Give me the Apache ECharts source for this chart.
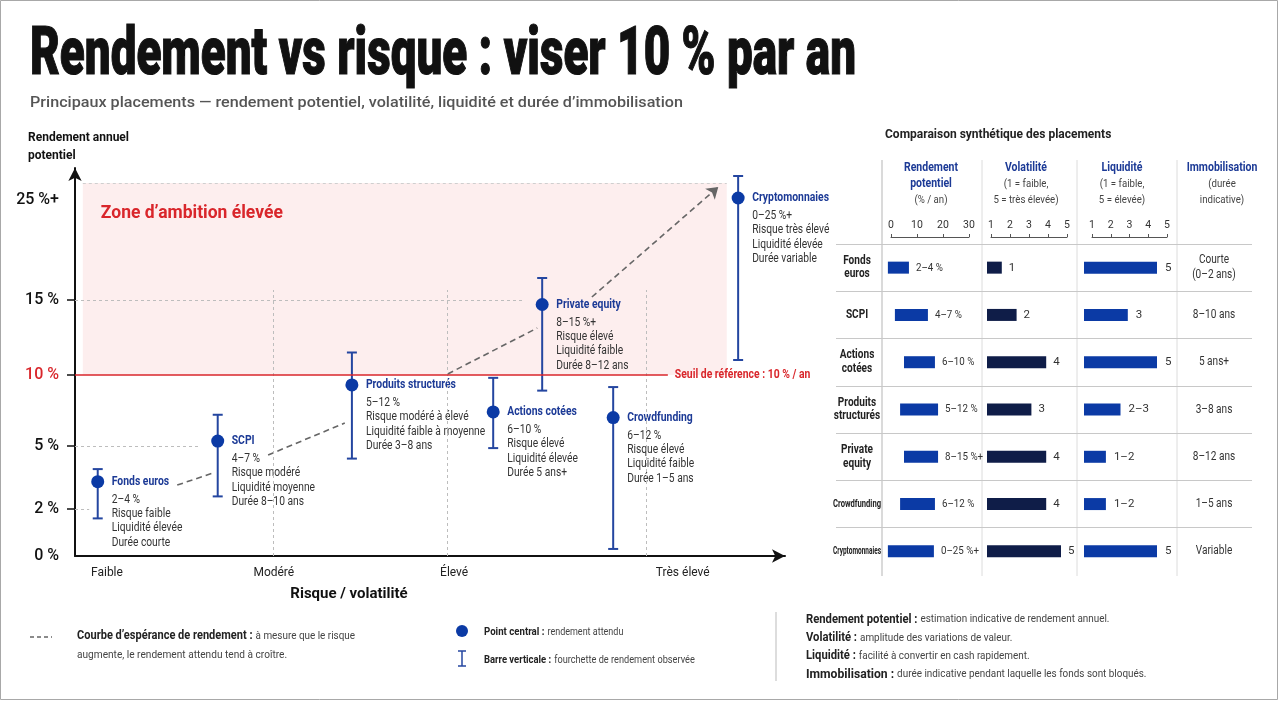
<!DOCTYPE html>
<html>
<head>
<meta charset="utf-8">
<script src="https://cdn.jsdelivr.net/npm/echarts@6/dist/echarts.min.js"></script>
<style>
  html, body { margin: 0; padding: 0; background: #fff; }
  #chart { width: 1280px; height: 702px; }
</style>
</head>
<body>
<div id="chart"></div>
<script>
// ---- main chart data (risk position 0-100, returns in %) ----
var placements = ['Fonds euros', 'SCPI', 'Produits structurés', 'Actions cotées', 'Private equity', 'Crowdfunding', 'Cryptomonnaies'];
var riskX = [3.2, 20.1, 39.0, 58.9, 65.8, 75.8, 93.4];
var retMid = [3.3, 5.35, 9.3, 7.4, 14.7, 7.0, 25.2];
var retLow = [1.6, 2.6, 4.4, 4.9, 8.9, 0.3, 11.0];
var retHigh = [3.9, 7.2, 11.5, 9.8, 17.2, 9.15, 27.4];
var details = [
  ['2–4 %', 'Risque faible', 'Liquidité élevée', 'Durée courte'],
  ['4–7 %', 'Risque modéré', 'Liquidité moyenne', 'Durée 8–10 ans'],
  ['5–12 %', 'Risque modéré à élevé', 'Liquidité faible à moyenne', 'Durée 3–8 ans'],
  ['6–10 %', 'Risque élevé', 'Liquidité élevée', 'Durée 5 ans+'],
  ['8–15 %+', 'Risque élevé', 'Liquidité faible', 'Durée 8–12 ans'],
  ['6–12 %', 'Risque élevé', 'Liquidité faible', 'Durée 1–5 ans'],
  ['0–25 %+', 'Risque très élevé', 'Liquidité élevée', 'Durée variable']
];
// expected-return curve, drawn in pieces (gaps behind the labels)
var curveX = [[14.4, 19.4], [27.2, 38.0], [52.5, 65.1], [72.8, 90.6]];
var curveY = [[3.14, 3.71], [4.57, 6.62], [10.07, 13.13], [15.3, 26.3]];

var yTicks = [0, 2, 5, 10, 15, 25];
var yTickLabels = ['0 %', '2 %', '5 %', '10 %', '15 %', '25 %+'];
var riskLevels = ['Faible', 'Modéré', 'Élevé', 'Très élevé'];
var riskLevelX = [4.5, 28.0, 53.4, 85.6];
var threshold = 10;
var zoneTop = 26.7;

// ---- table data ----
var tableRows = ['Fonds euros', 'SCPI', 'Actions cotées', 'Produits structurés', 'Private equity', 'Crowdfunding', 'Cryptomonnaies'];
var tableRowLabels = [['Fonds', 'euros'], ['SCPI'], ['Actions', 'cotées'], ['Produits', 'structurés'], ['Private', 'equity'], ['Crowdfunding'], ['Cryptomonnaies']];
var retRangeLabels = ['2–4 %', '4–7 %', '6–10 %', '5–12 %', '8–15 %+', '6–12 %', '0–25 %+'];
var retBarFrom = [-1.2, 1.5, 5.0, 3.5, 5.0, 3.5, -1.2];
var retBarTo = [6.9, 14.2, 16.9, 18.1, 18.1, 16.9, 16.5];
var volScore = [1, 2, 4, 3, 4, 4, 5];
var liqScore = [5, 3, 5, 2.5, 1.5, 1.5, 5];
var liqLabels = ['5', '3', '5', '2–3', '1–2', '1–2', '5'];
var immobilisation = [['Courte', '(0–2 ans)'], ['8–10 ans'], ['5 ans+'], ['3–8 ans'], ['8–12 ans'], ['1–5 ans'], ['Variable']];

// non-linear return scale: break values -> axis units
var Y_STEPS = [0, 47, 110, 181, 256, 356];
function yPos(v) {
  for (var i = 1; i < yTicks.length; i++) {
    if (v <= yTicks[i] || i === yTicks.length - 1) {
      var a = yTicks[i - 1], b = yTicks[i];
      return Y_STEPS[i - 1] + (v - a) / (b - a) * (Y_STEPS[i] - Y_STEPS[i - 1]);
    }
  }
}
function nearestIndex(list, v) {
  var best = 0;
  for (var i = 1; i < list.length; i++) if (Math.abs(list[i] - v) < Math.abs(list[best] - v)) best = i;
  return best;
}

var FONT = "Roboto, 'Liberation Sans', sans-serif";
var BLUE = '#0b3aa5';
var BAR_BLUE = '#2446a0';
var NAME_BLUE = '#1c3a96';
var RED = '#d9262b';
var NAVY = '#0f1d48';
var COND = 0.82;

var measureCtx = document.createElement('canvas').getContext('2d');
function textWidth(t, font) { measureCtx.font = font; return measureCtx.measureText(t).width; }

function condText(x, y, text, size, weight, fill, scale, align) {
  return {
    type: 'text', x: x, y: y, scaleX: scale || COND,
    style: { text: text, fontSize: size, fontWeight: weight || 'normal', fontFamily: FONT, fill: fill, verticalAlign: 'middle', align: align || 'left' }
  };
}
// a line of text made of differently styled parts, laid out left to right
function inlineParts(x, y, parts) {
  var out = [], cx = x;
  parts.forEach(function (p) {
    var font = p.weight + ' ' + p.size + 'px ' + FONT;
    out.push({ type: 'text', x: cx, y: y, scaleX: p.scale, silent: true, style: { text: p.text, font: font, fill: p.fill, verticalAlign: 'middle' } });
    cx += textWidth(p.text, font) * p.scale + 3;
  });
  return out;
}

var chart = echarts.init(document.getElementById('chart'));

var errData = [], pointData = [];
for (var i = 0; i < placements.length; i++) {
  errData.push([riskX[i], yPos(retLow[i]), yPos(retHigh[i])]);
  pointData.push({ name: placements[i], value: [riskX[i], yPos(retMid[i])] });
}
var curveSegs = [];
for (var s = 0; s < curveX.length - 1; s++) {
  curveSegs.push({ coords: [[curveX[s][0], yPos(curveY[s][0])], [curveX[s][1], yPos(curveY[s][1])]] });
}
var last = curveX.length - 1;
var curveArrow = [{ coords: [[curveX[last][0], yPos(curveY[last][0])], [curveX[last][1], yPos(curveY[last][1])]] }];

var guide = { color: '#bdbdbd', type: [3, 3], width: 1 };
function hGuide(v, xEnd) {
  return [{ coord: [0, yPos(v)], lineStyle: guide, label: { show: false } }, { coord: [xEnd, yPos(v)] }];
}
function vGuide(x, vTop) {
  return [{ coord: [x, 0], lineStyle: guide, label: { show: false } }, { coord: [x, yPos(vTop)] }];
}

function miniAxis(grid, min, max, interval) {
  return {
    type: 'value', gridIndex: grid, min: min, max: max, interval: interval, position: 'top', offset: 7,
    axisLine: { show: true, lineStyle: { color: '#555', width: 1 } },
    axisTick: { show: true, length: 3, lineStyle: { color: '#555' } },
    axisLabel: { fontSize: 10.5, color: '#333', margin: 6, fontFamily: FONT },
    splitLine: { show: false }
  };
}
function hiddenX(grid, min, max) {
  return { type: 'value', gridIndex: grid, min: min, max: max, show: false, splitLine: { show: false } };
}
function rowAxis(grid) {
  return {
    type: 'category', gridIndex: grid, inverse: true, data: tableRows,
    axisLine: { show: false }, axisTick: { show: false }, axisLabel: { show: false }, splitLine: { show: false }
  };
}
function headerText(x, lines) {
  return {
    type: 'text', x: x, y: 184, scaleX: 0.84,
    style: {
      text: '{h|' + lines[0] + '}\n{' + (lines.length > 3 ? 'h' : 'g') + '|' + lines[1] + '}\n{g|' + lines[2] + '}',
      align: 'center', verticalAlign: 'middle',
      rich: { h: { font: 'bold 12.5px ' + FONT, fill: NAME_BLUE, lineHeight: 16 }, g: { font: '11.5px ' + FONT, fill: '#444', lineHeight: 16 } }
    }
  };
}

var TITLE_FONT = '900 66px ' + FONT;
var TITLE = 'Rendement vs risque : viser 10 % par an';
var SUB_FONT = '500 15.5px ' + FONT;
var SUB = 'Principaux placements — rendement potentiel, volatilité, liquidité et durée d’immobilisation';

var legendLeft = []
  .concat(inlineParts(77, 636, [
    { text: 'Courbe d’espérance de rendement :', weight: 'bold', size: 12, scale: 0.92, fill: '#222' },
    { text: 'à mesure que le risque', weight: 'normal', size: 11, scale: 0.9, fill: '#444' }
  ]))
  .concat(inlineParts(77, 655, [
    { text: 'augmente, le rendement attendu tend à croître.', weight: 'normal', size: 11, scale: 0.92, fill: '#444' }
  ]))
  .concat(inlineParts(484, 632, [
    { text: 'Point central :', weight: 'bold', size: 10.5, scale: 0.92, fill: '#222' },
    { text: 'rendement attendu', weight: 'normal', size: 10, scale: 0.9, fill: '#444' }
  ]))
  .concat(inlineParts(484, 660, [
    { text: 'Barre verticale :', weight: 'bold', size: 10.5, scale: 0.9, fill: '#222' },
    { text: 'fourchette de rendement observée', weight: 'normal', size: 10, scale: 0.92, fill: '#444' }
  ]));

var option = {
  backgroundColor: '#fff',
  animation: false,
  textStyle: { fontFamily: FONT },
  grid: [
    { left: 75, right: 495, top: 168, bottom: 146, outerBoundsMode: 'none' },
    { left: 836, right: 28, top: 244, bottom: 127, outerBoundsMode: 'none' },
    { left: 891, right: 311, top: 244, bottom: 127, outerBoundsMode: 'none' },
    { left: 991, right: 213, top: 244, bottom: 127, outerBoundsMode: 'none' },
    { left: 987, right: 219, top: 244, bottom: 127, outerBoundsMode: 'none' },
    { left: 1092, right: 113, top: 244, bottom: 127, outerBoundsMode: 'none' },
    { left: 1084, right: 123, top: 244, bottom: 127, outerBoundsMode: 'none' }
  ],
  xAxis: [
    {
      type: 'value', gridIndex: 0, min: 0, max: 100,
      axisLine: { show: true, symbol: ['none', 'arrow'], symbolSize: [10, 13], lineStyle: { color: '#111', width: 2 } },
      axisTick: { show: false },
      splitLine: { show: false },
      axisLabel: {
        show: true, customValues: riskLevelX, margin: 11, fontSize: 12, color: '#222', fontFamily: FONT,
        formatter: function (v) { return riskLevels[nearestIndex(riskLevelX, v)]; }
      }
    },
    hiddenX(1, 0, 1),
    miniAxis(2, 0, 30, 10),
    miniAxis(3, 1, 5, 1),
    hiddenX(4, 0, 5),
    miniAxis(5, 1, 5, 1),
    hiddenX(6, 0, 5)
  ],
  yAxis: [
    {
      type: 'value', gridIndex: 0, min: 0, max: 388,
      axisLine: { show: true, symbol: ['none', 'arrow'], symbolSize: [10, 13], lineStyle: { color: '#111', width: 2 } },
      axisTick: { show: true, customValues: [yPos(2), yPos(5), yPos(10), yPos(15)], length: 8, lineStyle: { color: '#111', width: 1.5 } },
      splitLine: { show: false },
      axisLabel: {
        show: true, customValues: yTicks.map(yPos), margin: 16, fontSize: 16, fontWeight: 500, color: '#111', fontFamily: FONT,
        formatter: function (v) {
          var k = nearestIndex(yTicks.map(yPos), v);
          return yTicks[k] === threshold ? '{r|' + yTickLabels[k] + '}' : yTickLabels[k];
        },
        rich: { r: { color: RED, fontSize: 16, fontWeight: 500, fontFamily: FONT } }
      }
    },
    {
      type: 'category', gridIndex: 1, inverse: true, data: tableRows,
      axisLine: { show: false }, axisTick: { show: false }, axisLabel: { show: false },
      splitLine: { show: true, showMaxLine: false, lineStyle: { color: '#c8c8c8', width: 1 } }
    },
    rowAxis(2), rowAxis(3), rowAxis(4), rowAxis(5), rowAxis(6)
  ],
  series: [
    {
      name: 'Fourchette', type: 'custom', xAxisIndex: 0, yAxisIndex: 0, z: 2,
      data: errData,
      renderItem: function (params, api) {
        var top = api.coord([api.value(0), api.value(2)]);
        var bot = api.coord([api.value(0), api.value(1)]);
        var st = { stroke: BAR_BLUE, lineWidth: 2 };
        return {
          type: 'group',
          children: [
            { type: 'line', shape: { x1: top[0], y1: top[1], x2: bot[0], y2: bot[1] }, style: st },
            { type: 'line', shape: { x1: top[0] - 5, y1: top[1], x2: top[0] + 5, y2: top[1] }, style: st },
            { type: 'line', shape: { x1: bot[0] - 5, y1: bot[1], x2: bot[0] + 5, y2: bot[1] }, style: st }
          ]
        };
      }
    },
    {
      name: 'Rendement attendu', type: 'scatter', xAxisIndex: 0, yAxisIndex: 0, z: 3,
      symbolSize: 13, itemStyle: { color: BLUE, opacity: 1 },
      data: pointData,
      markArea: {
        silent: true,
        itemStyle: { color: '#fdeeee' },
        label: {
          show: true, position: 'insideTopLeft', offset: [13, 17],
          color: RED, fontSize: 17.5, fontWeight: 'bold', fontFamily: FONT
        },
        data: [[{ name: 'Zone d’ambition élevée', coord: [1.1, yPos(zoneTop)] }, { coord: [91.8, yPos(threshold)] }]]
      },
      markLine: {
        silent: true, symbol: 'none',
        data: [
          [{ coord: [1.1, yPos(zoneTop)], lineStyle: { color: '#cfcfcf', type: [3, 3], width: 1 }, label: { show: false } }, { coord: [91.8, yPos(zoneTop)] }],
          hGuide(15, 63.1), hGuide(5, 17.6), hGuide(2, 2.0),
          vGuide(27.9, 16), vGuide(52.4, 16), vGuide(80.4, 16),
          [{ coord: [0, yPos(threshold)], lineStyle: { color: RED, type: 'solid', width: 1.6 }, label: { show: false } },
           { coord: [83.5, yPos(threshold)] }]
        ]
      }
    },
    {
      name: 'Étiquettes', type: 'custom', xAxisIndex: 0, yAxisIndex: 0, z: 4, silent: true,
      data: pointData.map(function (p) { return p.value; }),
      renderItem: function (params, api) {
        var p = api.coord([api.value(0), api.value(1)]);
        var x = p[0] + 14;
        var kids = [condText(x, p[1], placements[params.dataIndex], 13, 'bold', NAME_BLUE, 0.8)];
        details[params.dataIndex].forEach(function (t, k) {
          kids.push(condText(x, p[1] + 18 + 14.3 * k, t, 12.5, 'normal', '#333', COND));
        });
        return { type: 'group', children: kids };
      }
    },
    {
      name: 'Seuil', type: 'custom', xAxisIndex: 0, yAxisIndex: 0, z: 4, silent: true,
      data: [[83.5, yPos(threshold)]],
      renderItem: function (params, api) {
        var p = api.coord([api.value(0), api.value(1)]);
        return condText(p[0] + 7, p[1], 'Seuil de référence : 10 % / an', 13, 'bold', RED, 0.8);
      }
    },
    {
      name: 'Courbe', type: 'lines', coordinateSystem: 'cartesian2d', xAxisIndex: 0, yAxisIndex: 0, z: 1,
      symbol: 'none', silent: true,
      lineStyle: { color: '#666', width: 1.6, type: [6, 4], opacity: 1 },
      data: curveSegs
    },
    {
      name: 'Courbe fin', type: 'lines', coordinateSystem: 'cartesian2d', xAxisIndex: 0, yAxisIndex: 0, z: 1,
      symbol: ['none', 'arrow'], symbolSize: 11, silent: true,
      lineStyle: { color: '#666', width: 1.6, type: [6, 4], opacity: 1 },
      data: curveArrow
    },
    {
      name: 'Tableau', type: 'custom', xAxisIndex: 1, yAxisIndex: 1, silent: true,
      data: tableRows.map(function (r, k) { return [0, k]; }),
      renderItem: function (params, api) {
        var cs = params.coordSys;
        var cy = api.coord([0, api.value(1)])[1];
        var k = params.dataIndex;
        var kids = [];
        var rl = tableRowLabels[k];
        var size = rl.length > 1 || rl[0].length < 6 ? 12 : 11;
        rl.forEach(function (t, j) {
          var w = textWidth(t, 'bold ' + size + 'px ' + FONT);
          var sc = Math.min(0.84, 48 / w);
          kids.push(condText(cs.x + 21, cy + (j - (rl.length - 1) / 2) * 13.5, t, size, 'bold', '#222', sc, 'center'));
        });
        var im = immobilisation[k];
        im.forEach(function (t, j) {
          kids.push(condText(cs.x + 378, cy + (j - (im.length - 1) / 2) * 15, t, 12, 'normal', '#333', 0.84, 'center'));
        });
        return { type: 'group', children: kids };
      }
    },
    {
      name: 'Rendement potentiel', type: 'custom', xAxisIndex: 2, yAxisIndex: 2, clip: false,
      data: tableRows.map(function (r, k) { return [retBarFrom[k], retBarTo[k], k]; }),
      renderItem: function (params, api) {
        var a = api.coord([api.value(0), api.value(2)]);
        var b = api.coord([api.value(1), api.value(2)]);
        return {
          type: 'group',
          children: [
            { type: 'rect', shape: { x: a[0], y: a[1] - 6, width: b[0] - a[0], height: 12 }, style: { fill: BLUE } },
            condText(b[0] + 7, b[1], retRangeLabels[params.dataIndex], 11.5, 'normal', '#333', 0.85)
          ]
        };
      }
    },
    {
      name: 'Volatilité', type: 'bar', xAxisIndex: 4, yAxisIndex: 4, barWidth: 12,
      itemStyle: { color: NAVY },
      label: { show: true, position: 'right', distance: 7, color: '#333', fontSize: 11.5, fontFamily: FONT },
      data: volScore
    },
    {
      name: 'Liquidité', type: 'bar', xAxisIndex: 6, yAxisIndex: 6, barWidth: 12,
      itemStyle: { color: BLUE },
      label: {
        show: true, position: 'right', distance: 8, color: '#333', fontSize: 11.5, fontFamily: FONT,
        formatter: function (p) { return liqLabels[p.dataIndex]; }
      },
      data: liqScore
    }
  ],
  graphic: [
    { type: 'rect', silent: true, shape: { x: 0.5, y: 0.5, width: 1277, height: 699 }, style: { fill: 'none', stroke: '#a8a8a8', lineWidth: 1 } },
    { type: 'text', x: 30, y: 57, scaleX: 826 / textWidth(TITLE, TITLE_FONT), style: { text: TITLE, font: TITLE_FONT, fill: '#111', stroke: '#111', lineWidth: 1.2, verticalAlign: 'middle' } },
    { type: 'text', x: 30, y: 103, scaleX: 653 / textWidth(SUB, SUB_FONT), style: { text: SUB, font: SUB_FONT, fill: '#555', verticalAlign: 'middle' } },
    { type: 'text', x: 28, y: 147, style: { text: 'Rendement annuel\npotentiel', font: 'bold 12px ' + FONT, fill: '#111', lineHeight: 18, verticalAlign: 'middle' } },
    { type: 'text', x: 349, y: 594, style: { text: 'Risque / volatilité', font: 'bold 15px ' + FONT, fill: '#111', align: 'center', verticalAlign: 'middle' } },
    // table
    { type: 'text', x: 885, y: 135, style: { text: 'Comparaison synthétique des placements', font: 'bold 12px ' + FONT, fill: '#222', verticalAlign: 'middle' } },
    headerText(931, ['Rendement', 'potentiel', '(% / an)', '']),
    headerText(1026, ['Volatilité', '(1 = faible,', '5 = très élevée)']),
    headerText(1122, ['Liquidité', '(1 = faible,', '5 = élevée)']),
    headerText(1222, ['Immobilisation', '(durée', 'indicative)']),
    { type: 'line', silent: true, shape: { x1: 882, y1: 160, x2: 882, y2: 576 }, style: { stroke: '#b5b5b5', lineWidth: 1 } },
    { type: 'line', silent: true, shape: { x1: 982, y1: 160, x2: 982, y2: 576 }, style: { stroke: '#dcdcdc', lineWidth: 1 } },
    { type: 'line', silent: true, shape: { x1: 1077, y1: 160, x2: 1077, y2: 576 }, style: { stroke: '#dcdcdc', lineWidth: 1 } },
    { type: 'line', silent: true, shape: { x1: 1177, y1: 160, x2: 1177, y2: 576 }, style: { stroke: '#dcdcdc', lineWidth: 1 } },
    // legend (bottom left)
    { type: 'line', silent: true, shape: { x1: 30, y1: 637, x2: 52, y2: 637 }, style: { stroke: '#666', lineWidth: 1.4, lineDash: [4, 3] } },
    { type: 'circle', silent: true, shape: { cx: 462, cy: 631, r: 6 }, style: { fill: BLUE } },
    { type: 'line', silent: true, shape: { x1: 462, y1: 651, x2: 462, y2: 666 }, style: { stroke: BAR_BLUE, lineWidth: 1.5 } },
    { type: 'line', silent: true, shape: { x1: 458, y1: 651, x2: 466, y2: 651 }, style: { stroke: BAR_BLUE, lineWidth: 1.5 } },
    { type: 'line', silent: true, shape: { x1: 458, y1: 666, x2: 466, y2: 666 }, style: { stroke: BAR_BLUE, lineWidth: 1.5 } },
    // definitions (bottom right)
    { type: 'line', silent: true, shape: { x1: 776, y1: 612, x2: 776, y2: 681 }, style: { stroke: '#bbb', lineWidth: 1 } },
    { type: 'text', x: 806, y: 647, scaleX: 0.9, style: {
      text: '{b|Rendement potentiel :} {t|estimation indicative de rendement annuel.}\n{b|Volatilité :} {t|amplitude des variations de valeur.}\n{b|Liquidité :} {t|facilité à convertir en cash rapidement.}\n{B|Immobilisation :} {t|durée indicative pendant laquelle les fonds sont bloqués.}',
      verticalAlign: 'middle',
      rich: { b: { font: 'bold 12.5px ' + FONT, fill: '#222', lineHeight: 18.3 }, B: { font: 'bold 13.5px ' + FONT, fill: '#222', lineHeight: 18.3 }, t: { font: '11px ' + FONT, fill: '#444', lineHeight: 18.3 } }
    } }
  ].concat(legendLeft)
};
chart.setOption(option);
</script>
</body>
</html>
